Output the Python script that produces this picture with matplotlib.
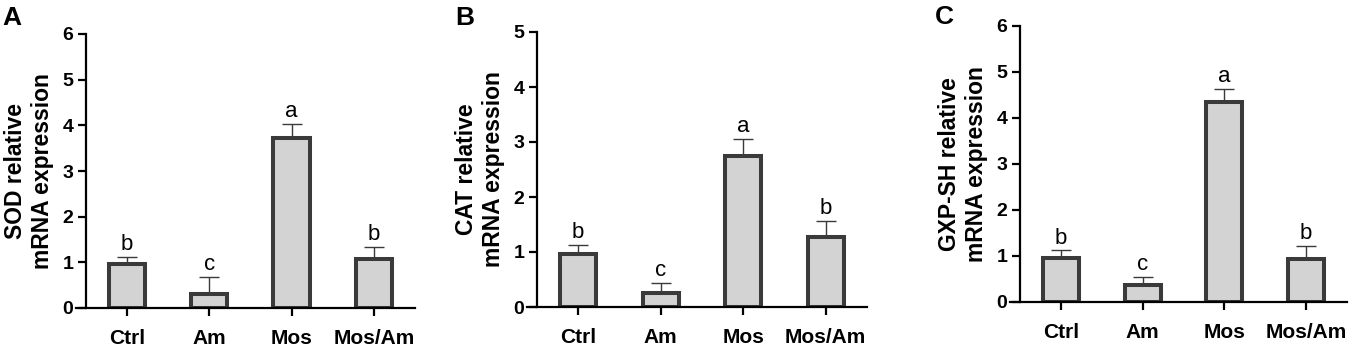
import matplotlib
matplotlib.use("Agg")
import matplotlib.pyplot as plt

plt.rcParams["font.family"] = ["Liberation Sans", "DejaVu Sans"]

groups = ["Ctrl", "Am", "Mos", "Mos/Am"]

sod_mean = [0.96, 0.30, 3.72, 1.07]
sod_err = [0.15, 0.37, 0.30, 0.27]
sod_sig = ["b", "c", "a", "b"]

cat_mean = [0.96, 0.25, 2.74, 1.28]
cat_err = [0.16, 0.18, 0.31, 0.28]
cat_sig = ["b", "c", "a", "b"]

gxp_mean = [0.96, 0.37, 4.34, 0.94]
gxp_err = [0.16, 0.18, 0.30, 0.27]
gxp_sig = ["b", "c", "a", "b"]

panels = [
    ("A", "SOD relative\nmRNA expression", sod_mean, sod_err, sod_sig, 6,
     [76, 34, 415, 308], (2, 6)),
    ("B", "CAT relative\nmRNA expression", cat_mean, cat_err, cat_sig, 5,
     [527, 32, 867, 307], (455, 6)),
    ("C", "GXP-SH relative\nmRNA expression", gxp_mean, gxp_err, gxp_sig, 6,
     [1010, 26, 1347, 302], (935, 5)),
]

W, H = 1353, 346
fig = plt.figure(figsize=(W / 100, H / 100), dpi=100)

bar_face = "#d3d3d3"
bar_edge = "#3a3a3a"

for letter, ylab, mean, err, sig, ymax, box, lpos in panels:
    x0, y0, x1, y1 = box
    ax = fig.add_axes([x0 / W, (H - y1) / H, (x1 - x0) / W, (y1 - y0) / H])
    ax.spines["top"].set_visible(False)
    ax.spines["right"].set_visible(False)
    ax.spines["left"].set_position(("data", -0.5))
    ax.spines["left"].set_linewidth(1.6)
    ax.spines["bottom"].set_linewidth(1.6)

    xs = list(range(len(groups)))
    ax.bar(xs, mean, width=0.44, color=bar_face, edgecolor=bar_edge,
           linewidth=2.9, zorder=2)
    ax.errorbar(xs, mean, yerr=[[0] * len(err), err], fmt="none",
                ecolor=bar_edge, elinewidth=1.0, capsize=7, capthick=1.0,
                zorder=1)
    for x, m, e, s in zip(xs, mean, err, sig):
        ax.annotate(s, (x, m + e), xytext=(0, 5), textcoords="offset points",
                    ha="center", va="baseline", fontsize=16, color="black")

    ax.set_xlim(-0.62, 3.5)
    ax.set_ylim(0, ymax)
    yt = list(range(0, ymax + 1))
    ax.set_yticks(yt, labels=[str(v) for v in yt], fontsize=14,
                  fontweight="bold")
    ax.set_xticks(xs, labels=groups, fontsize=15, fontweight="bold")
    ax.tick_params(axis="x", length=6, width=1.6, pad=9)
    ax.tick_params(axis="y", length=6, width=1.6, pad=3)
    ax.set_ylabel(ylab, fontsize=16.5, fontweight="bold", linespacing=1.25,
                  labelpad=6)

    fig.text(lpos[0] / W, 1 - lpos[1] / H, letter, fontsize=19,
             fontweight="bold", ha="left", va="top")

fig.savefig("out.png", dpi=100)
